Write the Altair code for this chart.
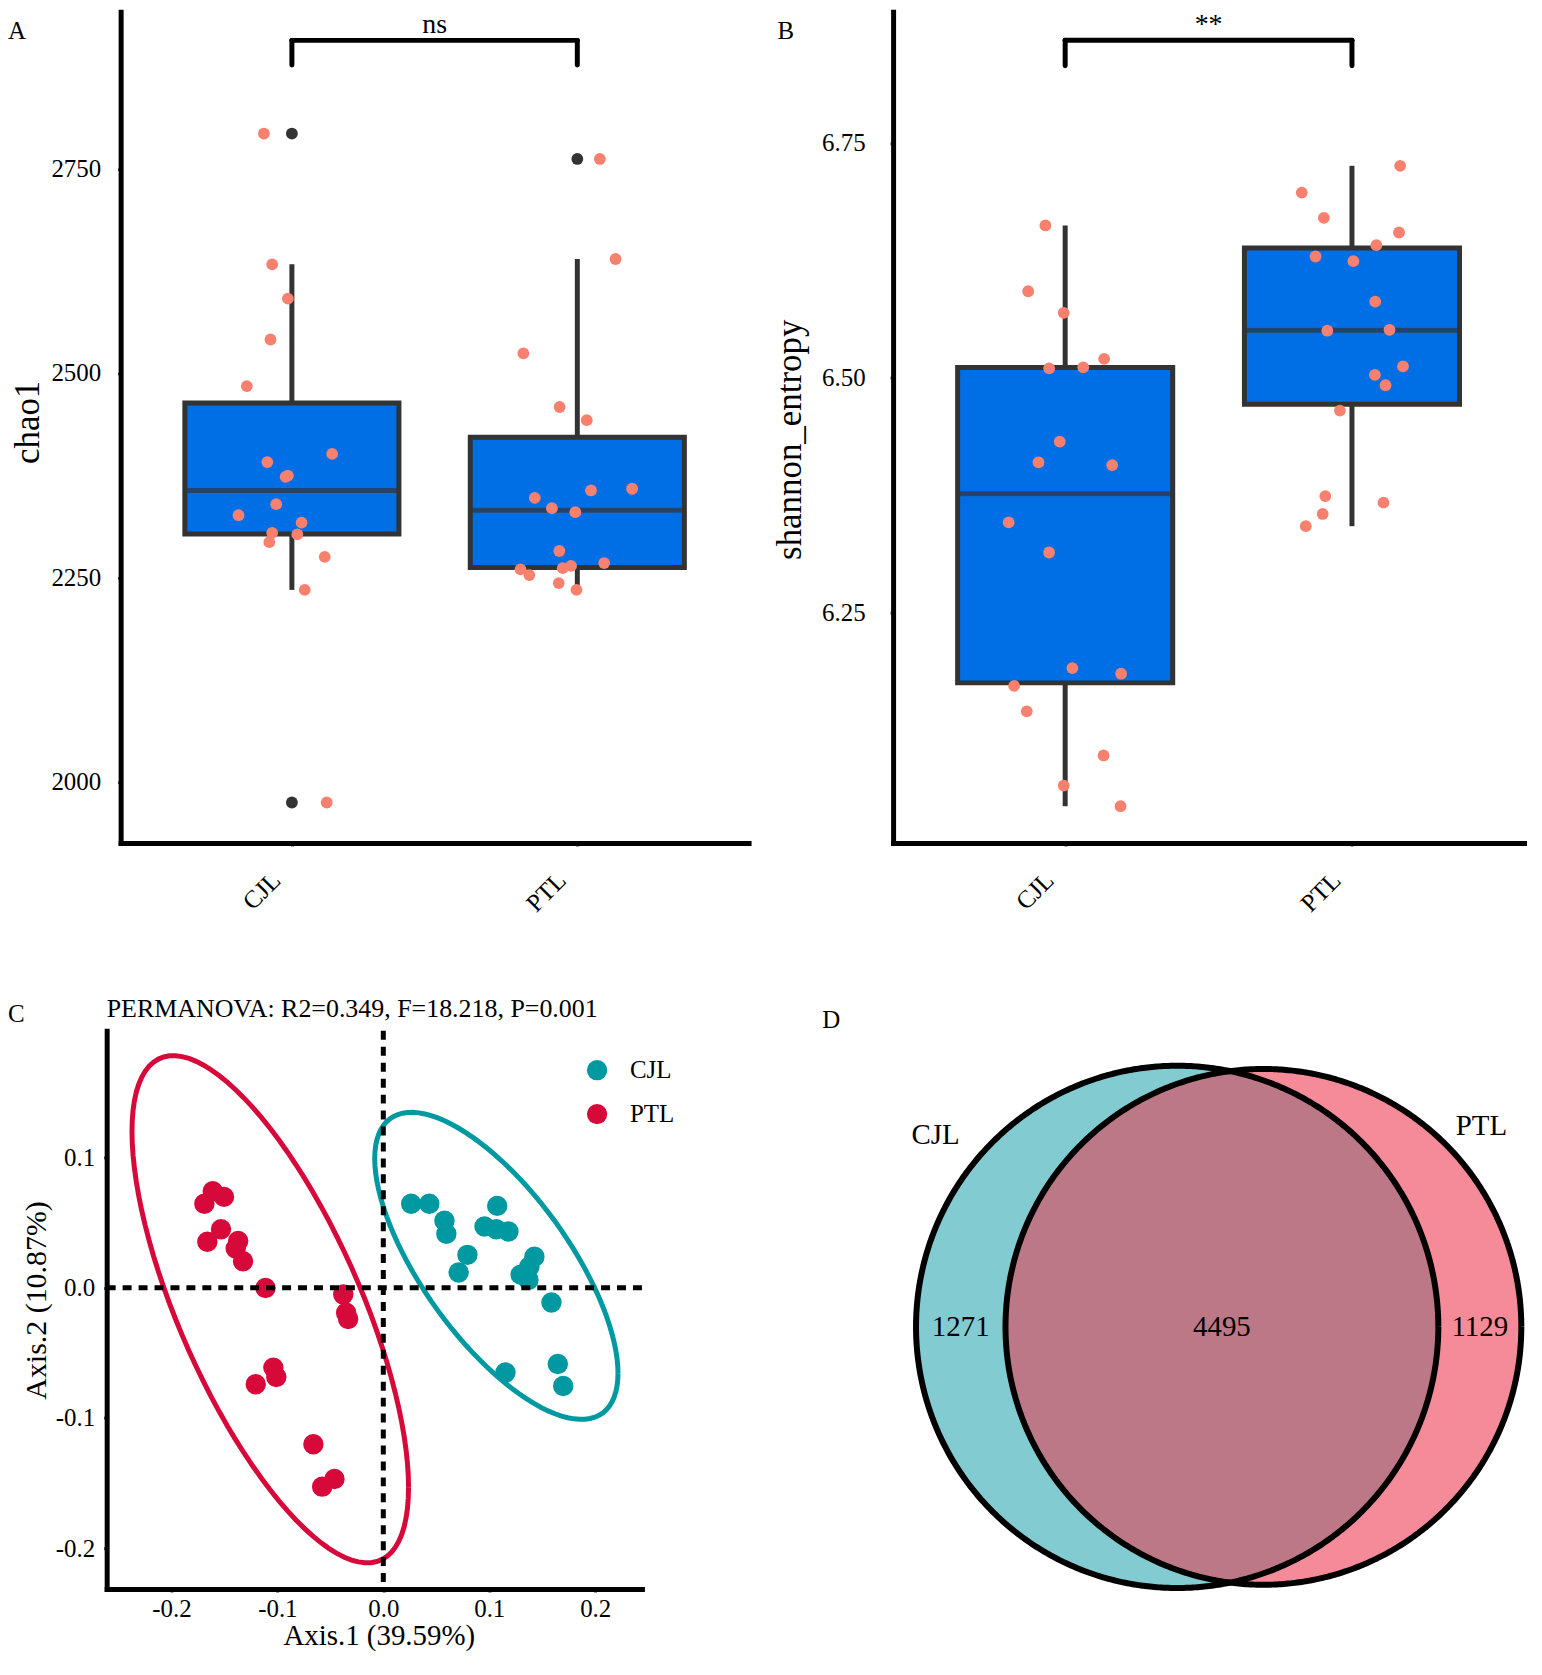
import math
import numpy as np
import pandas as pd
import altair as alt

FONT = "Liberation Serif"
groups = ["CJL", "PTL"]

# ---------------- Panel A : chao1 ----------------
chao1_cjl = [2793, 2633, 2591, 2541, 2484, 2401, 2391, 2374.5, 2373, 2339.5, 2326, 2317,
             2304.5, 2302.5, 2293, 2275, 2234.6, 1974.5]
chao1_cjl_jit = [-0.098, -0.069, -0.014, -0.075, -0.158, 0.141, -0.086, -0.014, -0.022, -0.055,
                 -0.187, 0.034, -0.069, 0.019, -0.079, 0.115, 0.045, 0.122]
chao1_ptl = [2761.9, 2639.5, 2524.1, 2458.4, 2442.3, 2358.4, 2356.3, 2347.2, 2334.6, 2329.7,
             2282.2, 2267.5, 2259.8, 2252.8, 2264.0, 2261.2, 2243.0, 2234.6]
chao1_ptl_jit = [0.079, 0.134, -0.189, -0.062, 0.033, 0.192, 0.048, -0.149, -0.089, -0.007,
                 -0.063, 0.094, -0.199, -0.168, -0.022, -0.051, -0.065, -0.003]
chao1_ticks = [2000, 2250, 2500, 2750]
chao1_sig = "ns"
chao1_bracket = [2877, 2907]
chao1_sig_y = 2916

# ---------------- Panel B : shannon ----------------
shannon_cjl = [6.662, 6.592, 6.569, 6.510, 6.511, 6.520, 6.432, 6.410, 6.407, 6.346, 6.314,
               6.191, 6.185, 6.172, 6.145, 6.098, 6.066, 6.044]
shannon_cjl_jit = [-0.069, -0.129, -0.005, -0.056, 0.063, 0.136, -0.019, -0.093, 0.164, -0.197,
                   -0.056, 0.025, 0.195, -0.178, -0.134, 0.134, -0.005, 0.193]
shannon_ptl = [6.7255, 6.697, 6.670, 6.6545, 6.641, 6.629, 6.624, 6.581, 6.550, 6.551, 6.512,
               6.503, 6.492, 6.465, 6.374, 6.367, 6.355, 6.342]
shannon_ptl_jit = [0.168, -0.175, -0.098, 0.164, 0.085, -0.127, 0.005, 0.081, -0.086, 0.131,
                   0.178, 0.080, 0.117, -0.042, -0.093, 0.110, -0.102, -0.161]
shannon_ticks = [6.25, 6.50, 6.75]
shannon_sig = "**"
shannon_bracket = [6.832, 6.859]
shannon_sig_y = 6.8667

# ---------------- Panel C : PCoA ----------------
pcoa_cjl_x = [0.0263, 0.0434, 0.0577, 0.0595, 0.1075, 0.0955, 0.1066, 0.1181, 0.0794, 0.0711,
              0.1426, 0.1379, 0.1296, 0.1370, 0.1587, 0.1153, 0.1647, 0.1698]
pcoa_cjl_y = [0.0645, 0.0645, 0.0514, 0.0414, 0.0628, 0.0469, 0.0448, 0.0431, 0.0252, 0.0117,
              0.0238, 0.0162, 0.0100, 0.0059, -0.0114, -0.0652, -0.0586, -0.0755]
pcoa_ptl_x = [-0.1689, -0.1610, -0.1504, -0.1661, -0.1532, -0.1370, -0.1393, -0.1324, -0.1112,
              -0.0378, -0.0351, -0.0332, -0.1038, -0.1010, -0.1204, -0.0660, -0.0461, -0.0577]
pcoa_ptl_y = [0.0645, 0.0741, 0.0697, 0.0352, 0.0448, 0.0359, 0.0300, 0.0203, -0.0003,
              -0.0052, -0.0193, -0.0241, -0.0614, -0.0686, -0.0741, -0.1203, -0.1469, -0.1528]
pcoa_ticks = [-0.2, -0.1, 0.0, 0.1, 0.2]
permanova = "PERMANOVA: R2=0.349, F=18.218, P=0.001"
axis1_title = "Axis.1 (39.59%)"
axis2_title = "Axis.2 (10.87%)"

# ---------------- Panel D : Venn ----------------
venn_sets = ["CJL", "PTL"]
venn_only = [1271, 1129]
venn_shared = 4495

BOX_FILL = "#006FE6"
BOX_LINE = "#333333"
JIT_COL = "#F8806F"
TEAL = "#0099A1"
CRIMSON = "#D7093B"
VENN_COLS = ["#82CBD1", "#F58B99"]
VENN_MID = "#BC7886"

AX_FONT = dict(labelFont=FONT, titleFont=FONT, labelColor="black", titleColor="black",
               titleFontWeight="normal")


def box_panel(vals, jits, ytitle, ydomain, yticks, yfmt, sig, br, sig_y, plot_w, height,
              letter, letter_x, tx, ty, lab_pad, lm):
    rows = []
    for gi, g in enumerate(groups):
        for v, j in zip(vals[gi], jits[gi]):
            rows.append({"grp": g, "value": v, "xj": gi + 1 + j})
    df = pd.DataFrame(rows)
    xr = [lm, lm + plot_w]
    xq = alt.Scale(domain=[0.4, 2.6], nice=False, zero=False, range=xr)
    ys = alt.Scale(domain=ydomain, nice=False, zero=False)
    yax = alt.Axis(title=ytitle, values=yticks, format=yfmt, labelFontSize=25,
                   labelPadding=lab_pad, titleFontSize=35, titleX=tx, titleY=ty,
                   titleAngle=270, titleAlign="center", titleBaseline="middle",
                   offset=-lm, **AX_FONT)
    xax = alt.Axis(title=None, labelAngle=315, labelAlign="right", labelBaseline="middle",
                   labelPadding=30, labelOffset=-16, labelFontSize=25, **AX_FONT)
    step = plot_w / 2.2
    box = alt.Chart(df).mark_boxplot(
        extent=1.5, size=0.75 * step, ticks=False,
        box={"fill": BOX_FILL, "stroke": BOX_LINE, "strokeWidth": 5},
        median={"color": BOX_LINE, "thickness": 5},
        rule={"color": BOX_LINE, "strokeWidth": 5},
        outliers={"color": BOX_LINE, "filled": True, "size": 140, "opacity": 1},
    ).encode(
        x=alt.X("grp:N", sort=groups,
                scale=alt.Scale(type="point", padding=0.6, range=xr), axis=xax),
        y=alt.Y("value:Q", scale=ys, axis=yax),
    )
    pts = alt.Chart(df).mark_circle(size=140, color=JIT_COL, opacity=1).encode(
        x=alt.X("xj:Q", scale=xq, axis=None),
        y=alt.Y("value:Q", scale=ys, axis=yax),
    )
    dbr = pd.DataFrame({"x": [1, 1, 2], "x2": [2, 1, 2],
                        "y": [br[1], br[0], br[0]], "y2": [br[1], br[1], br[1]]})
    brk = alt.Chart(dbr).mark_rule(color="black", strokeWidth=5, strokeCap="round").encode(
        x=alt.X("x:Q", scale=xq, axis=None), x2="x2:Q",
        y=alt.Y("y:Q", scale=ys, axis=yax), y2="y2:Q",
    )
    dtx = pd.DataFrame({"x": [1.5], "y": [sig_y], "t": [sig]})
    stx = alt.Chart(dtx).mark_text(font=FONT, fontSize=28, baseline="alphabetic",
                                   color="black").encode(
        x=alt.X("x:Q", scale=xq, axis=None),
        y=alt.Y("y:Q", scale=ys, axis=yax),
        text="t:N",
    )
    let = alt.Chart(pd.DataFrame({"t": [letter]})).mark_text(
        font=FONT, fontSize=25, align="left", baseline="alphabetic", color="black").encode(
        x=alt.value(letter_x), y=alt.value(27), text="t:N")
    return alt.layer(box, pts, brk, stx, let).resolve_scale(x="independent").properties(
        width=plot_w + lm, height=height)


A = box_panel([chao1_cjl, chao1_ptl], [chao1_cjl_jit, chao1_ptl_jit], "chao1",
              [1925.0, 2942.1], chao1_ticks, "d", chao1_sig, chao1_bracket, chao1_sig_y,
              630, 834, "A", -99, -93, 411.5, 17, 14)
B = box_panel([shannon_cjl, shannon_ptl], [shannon_cjl_jit, shannon_ptl_jit], "shannon_entropy",
              [6.0049, 6.8895], shannon_ticks, ".2f", shannon_sig, shannon_bracket, shannon_sig_y,
              633, 834, "B", -116, -104, 429, 25, 0)

# ---------------- Panel C ----------------
def ellipse(xs, ys, level=0.95, n=100):
    p = np.column_stack([xs, ys])
    c = p.mean(axis=0)
    cov = np.cov(p.T)
    dfd = len(xs) - 1
    fq = (dfd / 2.0) * ((1 - level) ** (-2.0 / dfd) - 1)
    rad = math.sqrt(2 * fq)
    L = np.linalg.cholesky(cov)
    t = np.linspace(0, 2 * np.pi, n + 1)
    unit = np.column_stack([np.cos(t), np.sin(t)])
    return c + rad * unit @ L.T

pc_rows = []
el_rows = []
for g, xs, ys_ in [("CJL", pcoa_cjl_x, pcoa_cjl_y), ("PTL", pcoa_ptl_x, pcoa_ptl_y)]:
    for a, b in zip(xs, ys_):
        pc_rows.append({"grp": g, "x": a, "y": b})
    e = ellipse(xs, ys_)
    for i, (a, b) in enumerate(e):
        el_rows.append({"eset": g, "idx": i, "x": a, "y": b})
df_pc = pd.DataFrame(pc_rows)
df_el = pd.DataFrame(el_rows)

cxs = alt.Scale(domain=[-0.2611, 0.2441], nice=False, zero=False)
cys = alt.Scale(domain=[-0.2314, 0.1972], nice=False, zero=False)
lab_expr = "datum.value < 0 ? '-' + format(-datum.value, '.1f') : format(datum.value, '.1f')"
cxax = alt.Axis(values=pcoa_ticks, labelExpr=lab_expr, labelFontSize=25, labelPadding=5,
                title=axis1_title, titleFontSize=29, titleX=273, titleY=56,
                titleBaseline="alphabetic", titleAlign="center", **AX_FONT)
cyax = alt.Axis(values=[-0.2, -0.1, 0.0, 0.1], labelExpr=lab_expr, labelFontSize=25,
                labelPadding=9, title=axis2_title, titleFontSize=30, titleX=-70, titleY=270,
                titleAngle=270, titleAlign="center", titleBaseline="middle", **AX_FONT)

c_pts = alt.Chart(df_pc).mark_circle(size=420, opacity=1).encode(
    x=alt.X("x:Q", scale=cxs, axis=cxax),
    y=alt.Y("y:Q", scale=cys, axis=cyax),
    color=alt.Color("grp:N", scale=alt.Scale(domain=groups, range=[TEAL, CRIMSON]),
                    legend=alt.Legend(
                        title=None, orient="none", legendX=479.5, legendY=27,
                        labelFont=FONT, labelFontSize=25, labelColor="black",
                        symbolSize=415, symbolType="circle", rowPadding=18,
                        labelOffset=20.5, padding=0, symbolStrokeWidth=0,
                        symbolOpacity=1)),
)
c_ell = alt.Chart(df_el).mark_line(strokeWidth=5).encode(
    x=alt.X("x:Q", scale=cxs, axis=cxax),
    y=alt.Y("y:Q", scale=cys, axis=cyax),
    stroke=alt.Stroke("eset:N", scale=alt.Scale(domain=groups, range=[TEAL, CRIMSON]),
                      legend=None),
    order=alt.Order("idx:Q"),
)
c_v = alt.Chart(pd.DataFrame({"x": [0.0]})).mark_rule(
    color="black", strokeWidth=5, strokeDash=[9, 7]).encode(
    x=alt.X("x:Q", scale=cxs, axis=cxax))
c_h = alt.Chart(pd.DataFrame({"y": [0.0]})).mark_rule(
    color="black", strokeWidth=5, strokeDash=[9, 7]).encode(
    y=alt.Y("y:Q", scale=cys, axis=cyax))
c_title = alt.Chart(pd.DataFrame({"t": [permanova]})).mark_text(
    font=FONT, fontSize=26, align="left", baseline="alphabetic", color="black").encode(
    x=alt.value(0), y=alt.value(-14), text="t:N")
c_let = alt.Chart(pd.DataFrame({"t": ["C"]})).mark_text(
    font=FONT, fontSize=25, align="left", baseline="alphabetic", color="black").encode(
    x=alt.value(-99), y=alt.value(-9), text="t:N")
C = alt.layer(c_pts, c_ell, c_v, c_h, c_title, c_let).properties(width=537, height=560)

# ---------------- Panel D : Venn ----------------
A1 = venn_only[0] + venn_shared
A2 = venn_only[1] + venn_shared
r1 = math.sqrt(A1 / math.pi)
r2 = math.sqrt(A2 / math.pi)

def lens_area(d):
    a = (d * d + r1 * r1 - r2 * r2) / (2 * d * r1)
    b = (d * d + r2 * r2 - r1 * r1) / (2 * d * r2)
    k = (-d + r1 + r2) * (d + r1 - r2) * (d - r1 + r2) * (d + r1 + r2)
    return r1 * r1 * math.acos(a) + r2 * r2 * math.acos(b) - 0.5 * math.sqrt(max(k, 0))

lo, hi = abs(r1 - r2) + 1e-9, r1 + r2 - 1e-9
for _ in range(200):
    mid = (lo + hi) / 2
    if lens_area(mid) > venn_shared:
        lo = mid
    else:
        hi = mid
dist = (lo + hi) / 2
cx = [0.0, dist]
rr = [r1, r2]

D_W, D_H = 695, 600
R1_PX = 262.0
s = R1_PX / r1
ox, oy = 356.0, 297.0
dxs = alt.Scale(domain=[-ox / s, (D_W - ox) / s], nice=False, zero=False)
dys = alt.Scale(domain=[-(D_H - oy) / s, oy / s], nice=False, zero=False)

th = np.linspace(np.pi, 0, 500)
fills = []
for i in range(2):
    xs = cx[i] + rr[i] * np.cos(th)
    hh = rr[i] * np.sin(th)
    fills.append(pd.DataFrame({"x": xs, "lo": -hh, "hi": hh}))
lx0, lx1 = cx[1] - r2, cx[0] + r1
lxs = (lx0 + lx1) / 2 + (lx1 - lx0) / 2 * np.cos(th)
lh = np.minimum(np.sqrt(np.maximum(r1 ** 2 - (lxs - cx[0]) ** 2, 0)),
                np.sqrt(np.maximum(r2 ** 2 - (lxs - cx[1]) ** 2, 0)))
df_lens = pd.DataFrame({"x": lxs, "lo": -lh, "hi": lh})

ol_rows = []
tt = np.linspace(0, 2 * np.pi, 721)
for i in range(2):
    for j, t in enumerate(tt):
        ol_rows.append({"cid": venn_sets[i], "t": j,
                        "x": cx[i] + rr[i] * math.cos(t), "y": rr[i] * math.sin(t)})
df_ol = pd.DataFrame(ol_rows)

def area_layer(df, col):
    return alt.Chart(df).mark_area(color=col, opacity=1).encode(
        x=alt.X("x:Q", scale=dxs, axis=None),
        y=alt.Y("lo:Q", scale=dys, axis=None), y2="hi:Q")

d_c1 = area_layer(fills[0], VENN_COLS[0])
d_c2 = area_layer(fills[1], VENN_COLS[1])
d_lens = area_layer(df_lens, VENN_MID)
d_ol = alt.Chart(df_ol).mark_line(color="black", strokeWidth=6).encode(
    x=alt.X("x:Q", scale=dxs, axis=None),
    y=alt.Y("y:Q", scale=dys, axis=None),
    detail="cid:N", order=alt.Order("t:Q"))

num_df = pd.DataFrame({
    "x": [(cx[0] - r1 + cx[1] - r2) / 2, (cx[1] - r2 + cx[0] + r1) / 2,
          (cx[0] + r1 + cx[1] + r2) / 2],
    "y": [0.0, 0.0, 0.0],
    "t": [str(venn_only[0]), str(venn_shared), str(venn_only[1])]})
d_num = alt.Chart(num_df).mark_text(font=FONT, fontSize=29, baseline="middle",
                                    color="black").encode(
    x=alt.X("x:Q", scale=dxs, axis=None), y=alt.Y("y:Q", scale=dys, axis=None), text="t:N")

ang = [math.radians(141.6), math.radians(42.7)]
fac = [1.18, 1.15]
cat_df = pd.DataFrame({
    "x": [cx[i] + fac[i] * rr[i] * math.cos(ang[i]) for i in range(2)],
    "y": [fac[i] * rr[i] * math.sin(ang[i]) for i in range(2)],
    "t": venn_sets})
d_cat = alt.Chart(cat_df).mark_text(font=FONT, fontSize=29, baseline="middle",
                                    color="black").encode(
    x=alt.X("x:Q", scale=dxs, axis=None), y=alt.Y("y:Q", scale=dys, axis=None), text="t:N")
d_let = alt.Chart(pd.DataFrame({"t": ["D"]})).mark_text(
    font=FONT, fontSize=25, align="left", baseline="alphabetic", color="black").encode(
    x=alt.value(0), y=alt.value(-2.5), text="t:N")
D = alt.layer(d_c1, d_c2, d_lens, d_ol, d_num, d_cat, d_let).properties(width=D_W, height=D_H)

row1 = alt.hconcat(A, B, spacing=24).resolve_scale(color="independent", stroke="independent")
row2 = alt.hconcat(C, D, spacing=148).resolve_scale(
    color="independent", stroke="independent").resolve_legend(
    color="independent", stroke="independent")
chart = alt.vconcat(row1, row2, spacing=79.5).resolve_scale(
    color="independent", stroke="independent").resolve_legend(
    color="independent", stroke="independent").properties(
    padding=0).configure(font=FONT).configure_view(strokeWidth=0).configure_axis(
    domainColor="black", domainWidth=5, domainCap="square", tickColor=BOX_LINE,
    tickWidth=3, tickSize=3, labelFont=FONT, titleFont=FONT, labelColor="black",
    titleColor="black", grid=False, titleFontWeight="normal")

chart.save("out.html", embed_options={"renderer": "svg", "actions": False})
